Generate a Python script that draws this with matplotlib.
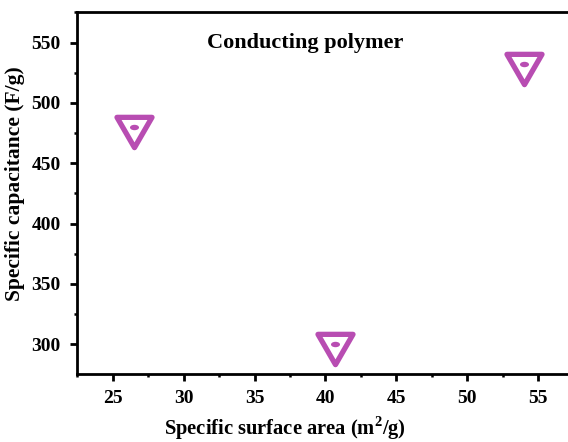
import matplotlib.pyplot as plt
from matplotlib.markers import MarkerStyle
from matplotlib.path import Path
from matplotlib.ticker import MultipleLocator

surface_area = [26.5, 40.7, 54.0]
capacitance = [480, 300, 532]
x_ticks = [25, 30, 35, 40, 45, 50, 55]
y_ticks = [300, 350, 400, 450, 500, 550]

color = '#B84DB2'

plt.rcParams['font.family'] = ['Liberation Serif', 'DejaVu Serif']
plt.rcParams['font.weight'] = 'bold'
plt.rcParams['mathtext.fontset'] = 'custom'
plt.rcParams['mathtext.rm'] = 'Liberation Serif:bold'
plt.rcParams['mathtext.bf'] = 'Liberation Serif:bold'

# down triangle centred on its centroid (Origin style), and a flat dot
tri = Path([(-1, 0.58), (1, 0.58), (0, -1.15), (-1, 0.58)],
           [Path.MOVETO, Path.LINETO, Path.LINETO, Path.CLOSEPOLY])
tri_marker = MarkerStyle(tri, joinstyle='round')
circ = Path.unit_circle()
dot = Path(circ.vertices * [1, 0.6], circ.codes)

fig = plt.figure(figsize=(5.68, 4.42), dpi=100)
ax = fig.add_axes([0.135, 0.154, 0.865, 0.819])

ax.plot(surface_area, capacitance, linestyle='none', marker=tri_marker, markersize=29,
        markerfacecolor='white', markeredgecolor=color, markeredgewidth=3.8)
ax.plot(surface_area, capacitance, linestyle='none', marker=dot, markersize=6.5,
        color=color, markeredgewidth=0)

ax.set_xlim(22.46, 57.1)
ax.set_ylim(275.4, 575.4)
ax.set_xticks(x_ticks)
ax.set_yticks(y_ticks)
ax.xaxis.set_minor_locator(MultipleLocator(2.5))
ax.yaxis.set_minor_locator(MultipleLocator(25))

for side in ['left', 'top', 'bottom']:
    ax.spines[side].set_linewidth(2)
ax.spines['right'].set_visible(False)

ax.tick_params(which='major', direction='out', length=5, width=2, labelsize=14, pad=6.5)
ax.tick_params(which='minor', direction='out', length=2.5, width=1.8)
ax.tick_params(top=False, right=False)

ax.set_xlabel('Specific surface area (m$^2$/g)', fontsize=14.8, fontweight='bold')
ax.set_ylabel('Specific capacitance (F/g)', fontsize=15.5, fontweight='bold')
ax.xaxis.set_label_coords(0.424, -0.112)
ax.yaxis.set_label_coords(-0.105, 0.525)
ax.text(0.465, 0.915, 'Conducting polymer', transform=ax.transAxes, ha='center', va='center',
        fontsize=16, fontweight='bold')

fig.savefig('out.png', dpi=100)
